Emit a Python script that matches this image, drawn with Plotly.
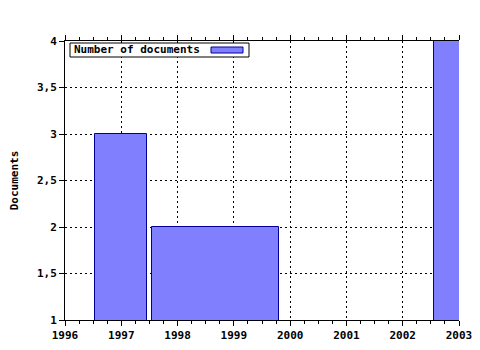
import plotly.graph_objects as go

# Data
bar_start = [1996.53, 1997.55, 2002.55]
bar_end = [1997.46, 1999.80, 2003.45]
documents = [3, 2, 4]
series_name = "Number of documents"
x_ticks = [1996, 1997, 1998, 1999, 2000, 2001, 2002, 2003]
y_ticks = [1, 1.5, 2, 2.5, 3, 3.5, 4]
y_ticktext = ["1", "1,5", "2", "2,5", "3", "3,5", "4"]

centers = [(s + e) / 2 for s, e in zip(bar_start, bar_end)]
widths = [e - s for s, e in zip(bar_start, bar_end)]

FONT = "DejaVu Sans Mono"
FILL = "rgb(128,128,255)"
EDGE = "rgb(0,0,150)"

fig = go.Figure()
fig.add_trace(go.Bar(
    x=centers, y=documents, width=widths, name=series_name,
    marker=dict(color=FILL, line=dict(color=EDGE, width=1)),
    showlegend=False,
))

W, H = 480, 350
L, R, T, B = 65, 21, 41, 30
pw, ph = W - L - R, H - T - B

def px(x):
    return (x - L) / pw

def py(y):
    return (H - B - y) / ph

fig.update_layout(
    width=W, height=H, autosize=False,
    margin=dict(l=L, r=R, t=T, b=B, pad=0, autoexpand=False),
    plot_bgcolor="white", paper_bgcolor="white",
    font=dict(family=FONT, size=11, color="black"),
    bargap=0,
    xaxis=dict(
        range=[1996, 2003], tickvals=x_ticks, automargin=False,
        tickfont=dict(family=FONT, size=11, color="black", weight="bold"),
        showline=True, linecolor="black", linewidth=1, mirror="ticks",
        ticks="outside", ticklen=5, tickcolor="black",
        showgrid=True, gridcolor="black", griddash="2px,3px", gridwidth=1,
        minor=dict(dtick=0.25, ticks="outside", ticklen=3, tickcolor="black", showgrid=False),
        zeroline=False,
    ),
    yaxis=dict(
        range=[1, 4], tickvals=y_ticks, ticktext=y_ticktext, automargin=False,
        tickfont=dict(family=FONT, size=11, color="black", weight="bold"),
        showline=True, linecolor="black", linewidth=1,
        ticks="outside", ticklen=5, tickcolor="black",
        showgrid=True, gridcolor="black", griddash="2px,3px", gridwidth=1,
        zeroline=False,
        title=dict(text="Documents", font=dict(family=FONT, size=11, color="black", weight="bold"), standoff=16),
    ),
    shapes=[
        dict(type="rect", xref="paper", yref="paper",
             x0=px(70), x1=px(249), y0=py(57), y1=py(43),
             fillcolor="white", line=dict(color="black", width=1), layer="above"),
        dict(type="rect", xref="paper", yref="paper",
             x0=px(211), x1=px(243), y0=py(53), y1=py(47),
             fillcolor=FILL, line=dict(color=EDGE, width=1), layer="above"),
    ],
    annotations=[
        dict(text=series_name, xref="paper", yref="paper", x=px(72), y=py(50),
             xanchor="left", yanchor="middle", showarrow=False,
             font=dict(family=FONT, size=11, color="black", weight="bold")),
    ],
)

fig.write_html("out.html")
